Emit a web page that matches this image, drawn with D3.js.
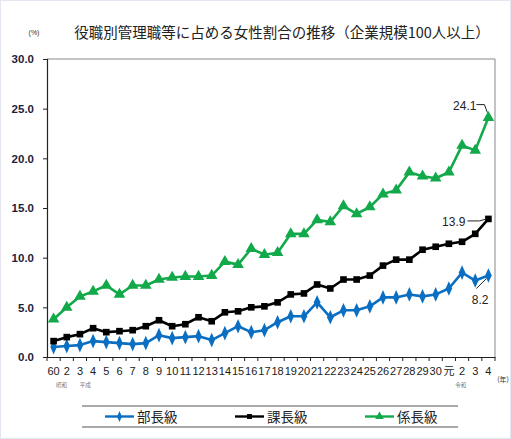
<!DOCTYPE html>
<html><head><meta charset="utf-8">
<script src="https://cdn.jsdelivr.net/npm/d3@7"></script>
<style>
body{margin:0;background:#fff;}
svg{display:block;}
text{font-family:"Liberation Sans",Arial,"Noto Sans CJK JP",sans-serif;}
.jp{font-family:"Noto Sans CJK JP",sans-serif;}
</style></head>
<body>
<svg id="chart" width="511" height="439"></svg>
<script>
const labels = ["60","2","3","4","5","6","7","8","9","10","11","12","13","14","15","16","17","18","19","20","21","22","23","24","25","26","27","28","29","30","元","2","3","4"];
const bucho = [1.0,1.1,1.2,1.6,1.5,1.4,1.3,1.4,2.2,1.9,2.0,2.1,1.7,2.4,3.1,2.5,2.7,3.5,4.1,4.1,5.5,4.0,4.7,4.7,5.1,6.0,6.0,6.3,6.1,6.3,6.9,8.5,7.7,8.2];
const kacho = [1.6,2.0,2.3,2.9,2.5,2.6,2.7,3.1,3.7,3.1,3.3,4.0,3.6,4.5,4.6,5.0,5.1,5.5,6.3,6.4,7.3,6.9,7.8,7.8,8.2,9.2,9.8,9.8,10.8,11.1,11.4,11.6,12.4,13.9];
const kakaricho = [3.8,5.0,6.1,6.6,7.2,6.3,7.2,7.2,7.8,8.0,8.1,8.1,8.2,9.6,9.3,10.9,10.3,10.5,12.4,12.4,13.8,13.6,15.2,14.4,15.1,16.4,16.8,18.6,18.2,18.0,18.6,21.3,20.8,24.1];
const seriesNames = ["部長級","課長級","係長級"];
const yTicks = [0,5,10,15,20,25,30];
const eraLabels = [{i:0.6,t:"昭和"},{i:2.4,t:"平成"},{i:30.9,t:"令和"}];

const svg = d3.select("#chart");
const L=47,R=495,T=59,B=357;
const x = d3.scaleBand().domain(d3.range(labels.length)).range([L,R]).padding(0);
const y = d3.scaleLinear().domain([0,30]).range([B,T]);
const cx = i => x(i)+x.bandwidth()/2;

// faint page border
svg.append("rect").attr("x",0.5).attr("y",0.5).attr("width",510).attr("height",438)
  .attr("fill","none").attr("stroke","#e6e6f0").attr("stroke-width",1);

// title
svg.append("text").attr("class","jp").attr("x",282).attr("y",38).attr("text-anchor","middle")
  .attr("font-size",14.5).attr("fill","#222").text("役職別管理職等に占める女性割合の推移（企業規模100人以上）");
svg.append("text").attr("x",34).attr("y",35).attr("text-anchor","middle").attr("font-size",7).attr("fill","#333").text("(%)");

// frame (top, right)
svg.append("path").attr("d",`M${L},${T}H${R}V${B}`).attr("fill","none").attr("stroke","#888").attr("stroke-width",1);

// y axis
const ya = svg.append("g").attr("transform",`translate(${L},0)`)
  .call(d3.axisLeft(y).tickValues(yTicks).tickFormat(d3.format(".1f")).tickSize(4).tickPadding(9));
ya.select(".domain").attr("stroke","#222").attr("stroke-width",1.2);
ya.selectAll(".tick line").attr("stroke","#222");
ya.selectAll("text").attr("font-size",11.5).attr("fill","#1c1c3c").attr("font-weight","bold");

// x axis labels
const xa = svg.append("g").attr("transform",`translate(0,${B})`)
  .call(d3.axisBottom(x).tickFormat(i=>labels[i]).tickSize(0).tickPadding(10));
xa.select(".domain").attr("stroke","#222").attr("stroke-width",1.2);
xa.selectAll("text").attr("font-size",11).attr("fill","#222");
xa.selectAll("text").filter(i=>labels[i]==="元").attr("font-family","Noto Sans CJK JP").attr("font-size",11);
// x tick marks at band boundaries
svg.append("g").selectAll("line").data(d3.range(labels.length+1)).join("line")
  .attr("x1",i=>i<labels.length?x(i):R).attr("x2",i=>i<labels.length?x(i):R)
  .attr("y1",B).attr("y2",B+4).attr("stroke","#222").attr("stroke-width",1);
// era labels
svg.append("g").selectAll("text").data(eraLabels).join("text").attr("class","jp")
  .attr("x",d=>cx(0)+d.i*x.bandwidth()).attr("y",387).attr("text-anchor","middle")
  .attr("font-size",5.5).attr("fill","#777").text(d=>d.t);
svg.append("text").attr("class","jp").attr("x",503).attr("y",382).attr("text-anchor","middle")
  .attr("font-size",7).attr("fill","#333").text("(年)");

// series
const series = [
  {name:seriesNames[0], vals:bucho, color:"#0A6FC2", shape:d3.symbolDiamond, size:62, sx:0.78},
  {name:seriesNames[1], vals:kacho, color:"#000000", shape:d3.symbolSquare, size:44, sx:1},
  {name:seriesNames[2], vals:kakaricho, color:"#12A94A", shape:d3.symbolTriangle, size:58, sx:1}
];
const line = d3.line().x((d,i)=>cx(i)).y(d=>y(d));
series.forEach(s=>{
  svg.append("path").datum(s.vals).attr("d",line).attr("fill","none")
    .attr("stroke",s.color).attr("stroke-width",2.6).attr("stroke-linejoin","round");
  svg.append("g").selectAll("path").data(s.vals).join("path")
    .attr("transform",(d,i)=>`translate(${cx(i)},${y(d)}) scale(${s.sx},1)`)
    .attr("d",d3.symbol().type(s.shape).size(s.size)).attr("fill",s.color);
});

// annotations
const n = labels.length-1;
const ann = [
  {v:kakaricho[n], tx:cx(n)-12, ty:y(kakaricho[n])-8, path:()=>`M${cx(n)-12},${y(kakaricho[n])-13}H${cx(n)-4}L${cx(n)-1},${y(kakaricho[n])-5}`, anchor:"end"},
  {v:kacho[n], tx:cx(n)-23, ty:y(kacho[n])+7, path:()=>`M${cx(n)-21},${y(kacho[n])+2}H${cx(n)-9}L${cx(n)-2},${y(kacho[n])}`, anchor:"end"},
  {v:bucho[n], tx:cx(n), ty:y(bucho[n])+28, path:()=>`M${cx(n)-12},${y(bucho[n])+13}L${cx(n)-2},${y(bucho[n])+3}`, anchor:"end"}
];
ann.forEach(a=>{
  svg.append("text").attr("x",a.tx).attr("y",a.ty).attr("text-anchor",a.anchor)
    .attr("font-size",12).attr("fill","#222").text(d3.format(".1f")(a.v));
  svg.append("path").attr("d",a.path()).attr("fill","none").attr("stroke","#222").attr("stroke-width",1);
});

// legend
svg.append("line").attr("x1",82).attr("x2",458).attr("y1",406).attr("y2",406).attr("stroke","#555").attr("stroke-width",1.2);
svg.append("line").attr("x1",82).attr("x2",458).attr("y1",427).attr("y2",427).attr("stroke","#555").attr("stroke-width",1.2);
const lx = [105,235,365];
series.forEach((s,k)=>{
  const g = svg.append("g").attr("transform",`translate(${lx[k]},416.5)`);
  g.append("line").attr("x1",0).attr("x2",29).attr("stroke",s.color).attr("stroke-width",2.4);
  g.append("path").attr("transform",`translate(14.5,0) scale(${s.sx},1)`).attr("d",d3.symbol().type(s.shape).size(s.size*0.55)).attr("fill",s.color);
  g.append("text").attr("class","jp").attr("x",32).attr("y",5).attr("font-size",13.5).attr("fill","#222").text(s.name);
});
</script>
</body></html>
